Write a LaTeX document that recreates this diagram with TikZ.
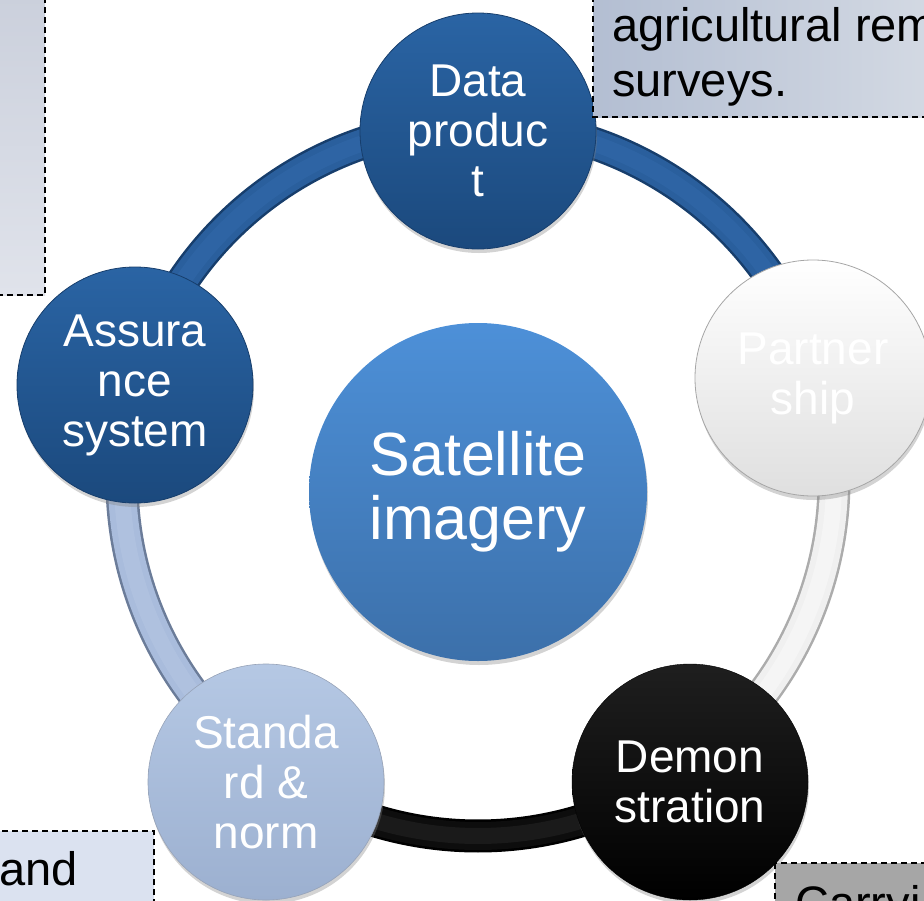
\documentclass[tikz,border=0pt]{standalone}
\usepackage{fontspec}
\setmainfont{Liberation Sans}
\usetikzlibrary{shadows,backgrounds}
\definecolor{dbtop}{HTML}{2A64A4}
\definecolor{dbbot}{HTML}{1B497D}
\definecolor{dbedge}{HTML}{173E6C}
\definecolor{dbring}{HTML}{2A5F9D}
\definecolor{dbhi}{HTML}{3670B2}
\definecolor{lbtop}{HTML}{B5C8E4}
\definecolor{lbbot}{HTML}{9CB0D0}
\definecolor{lbedge}{HTML}{6B7C99}
\definecolor{lbring}{HTML}{A9BCDC}
\definecolor{lbhi}{HTML}{BCCCE6}
\definecolor{ctop}{HTML}{4D90D8}
\definecolor{cbot}{HTML}{3C70AA}
\definecolor{tlA}{HTML}{CBD0DC}
\definecolor{tlB}{HTML}{E0E3EB}
\definecolor{trA}{HTML}{B3BED2}
\definecolor{trB}{HTML}{D3D9E3}
\definecolor{blfill}{HTML}{DBE2F0}
\definecolor{brfill}{HTML}{A6A6A6}
\begin{document}
\begin{tikzpicture}[x=1pt,y=1pt,
  bub/.style={circle, minimum size=236pt, inner sep=0pt, align=center,
    text=white, font=\fontsize{46}{50}\selectfont,
    drop shadow={opacity=0.35, shadow xshift=1pt, shadow yshift=-4pt}},
  ringedge/.style={draw=#1, line width=33pt},
  ringmain/.style={draw=#1, line width=28pt},
  ringhi/.style={draw=#1, line width=16pt, opacity=0.35},
  note/.style={draw=black, dashed, line width=1.6pt, dash pattern=on 6pt off 4pt},
  notetext/.style={inner sep=0pt, align=left, text=black, font=\fontsize{47}{55}\selectfont}]
\useasboundingbox (0,-900) rectangle (924,0);
\clip (0,-900) rectangle (924,0);

% circles
\node[bub, minimum size=338pt, top color=ctop, bottom color=cbot, font=\fontsize{61}{64}\selectfont] (sat) at (478,-492) {Satellite\\imagery};
\node[bub, top color=dbtop, bottom color=dbbot, draw=dbedge, line width=0.8pt] (data) at (478,-131) {Data\\produc\\t};
\node[bub, top color=white, bottom color=gray!25, draw=gray!70, line width=0.8pt] (partner) at (813,-378) {Partner\\ship};
\node[bub, top color=black!88, bottom color=black, draw=black] (demo) at (690,-782) {Demon\\stration};
\node[bub, top color=lbtop, bottom color=lbbot, draw=lbedge!70, line width=0.6pt] (std) at (266,-782) {Standa\\rd \&\\norm};
\node[bub, top color=dbtop, bottom color=dbbot, draw=dbedge, line width=0.8pt] (assur) at (135,-385) {Assura\\nce\\system};

% ring
\begin{scope}[on background layer]
\coordinate (ctr) at (478,-480);
\path (ctr) +(90:356) coordinate (r1) +(17:356) coordinate (r2) +(-55:356) coordinate (r3)
      +(-125:356) coordinate (r4) +(165:356) coordinate (r5);
\foreach \s/\a/\b/\ce/\cm/\ch in {r1/90/17/dbedge/dbring/dbhi, r2/17/-55/gray!65/gray!12/white,
    r3/-55/-125/black/black!95/black!80, r4/-125/-195/lbedge/lbring/lbhi, r5/165/90/dbedge/dbring/dbhi}{
  \draw[ringedge=\ce] (\s) arc[start angle=\a, end angle=\b, radius=356];
  \draw[ringmain=\cm] (\s) arc[start angle=\a, end angle=\b, radius=356];
  \draw[ringhi=\ch] (\s) arc[start angle=\a, end angle=\b, radius=356];
}
\end{scope}

% note boxes
\path[note, top color=tlA, bottom color=tlB] (-4,4) rectangle (45,-295);
\path[note, left color=trA, right color=trB] (593,4) rectangle (930,-117);
\node[notetext, anchor=north west] (trtext) at (612,-7) {agricultural rem\\surveys.};
\path[note, fill=blfill] (-4,-831) rectangle (154,-904);
\node[notetext, anchor=base west] (bltext) at (-1,-885) {and};
\path[note, fill=brfill] (775,-863) rectangle (930,-904);
\node[notetext, anchor=base west] (brtext) at (795,-919) {Carryi};
\end{tikzpicture}
\end{document}
